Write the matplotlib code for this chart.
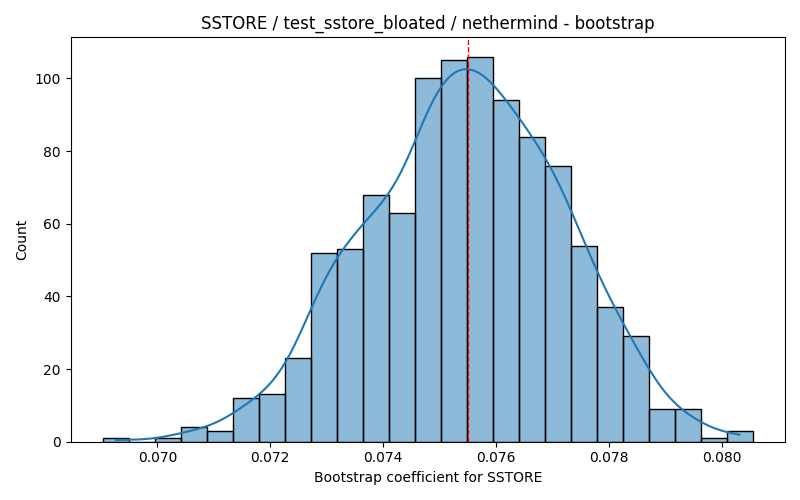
import matplotlib
matplotlib.use("Agg")
import matplotlib.pyplot as plt
import numpy as np
import seaborn as sns

# bootstrap histogram counts (25 bins)
counts = [1, 0, 1, 4, 3, 12, 13, 23, 52, 53, 68, 63, 100,
          105, 106, 94, 84, 76, 54, 37, 29, 9, 9, 1, 3]
bin_start = 0.06904
bin_width = 0.00046
point_estimate = 0.0755

edges = bin_start + bin_width * np.arange(len(counts) + 1)
centers = (edges[:-1] + edges[1:]) / 2
samples = np.repeat(centers, counts)

fig, ax = plt.subplots(figsize=(8, 5), dpi=100)
sns.histplot(samples, bins=edges, kde=True, ax=ax)
ax.axvline(point_estimate, color="red", linestyle="--", linewidth=1)

ax.set_title("SSTORE / test_sstore_bloated / nethermind - bootstrap")
ax.set_xlabel("Bootstrap coefficient for SSTORE")
ax.set_ylabel("Count")

plt.tight_layout()
plt.savefig("out.png", dpi=100)
